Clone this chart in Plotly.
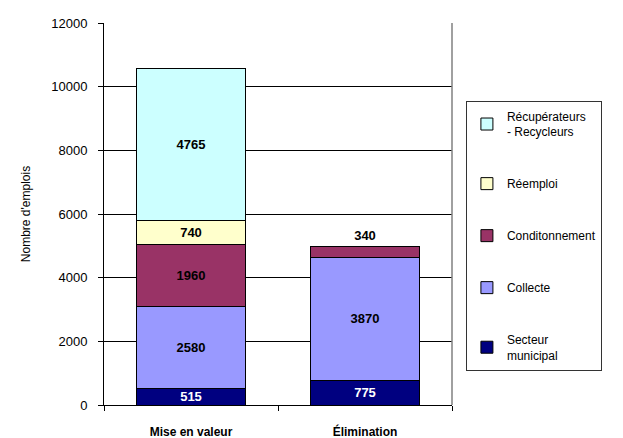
import plotly.graph_objects as go

categories = ["Mise en valeur", "Élimination"]
secteur_municipal = [515, 775]
collecte = [2580, 3870]
conditionnement = [1960, 340]
reemploi = [740, None]
recuperateurs = [4765, None]

series_names = ["Secteur<br>municipal", "Collecte", "Conditonnement", "Réemploi", "Récupérateurs<br>- Recycleurs"]
series_values = [secteur_municipal, collecte, conditionnement, reemploi, recuperateurs]
series_colors = ["#000080", "#9999FF", "#993366", "#FFFFCC", "#CCFFFF"]
text_colors = ["white", "black", "black", "black", "black"]

FONT = "Arial, Liberation Sans, sans-serif"

fig = go.Figure()
n = len(series_names)
for i, (name, vals, col, tcol) in enumerate(zip(series_names, series_values, series_colors, text_colors)):
    positions = []
    for v in vals:
        positions.append("outside" if (v is not None and name == "Conditonnement" and v < 500) else "inside")
    fig.add_trace(go.Bar(
        x=categories, y=vals, name=name, legendgroup=str(i), legendrank=n - i,
        marker=dict(color=col, line=dict(color="black", width=1)),
        text=[("" if v is None else str(v)) for v in vals],
        textposition=positions,
        insidetextanchor="middle",
        textangle=0,
        constraintext="none",
        textfont=dict(family=FONT, size=13, color=tcol, weight="bold"),
        outsidetextfont=dict(family=FONT, size=13, color="black", weight="bold"),
        cliponaxis=False,
    ))

# page body has an 8px default margin, so the figure is sized to fit the window
fig.update_layout(
    width=615, height=430,
    barmode="stack", bargap=0.374,
    paper_bgcolor="white", plot_bgcolor="white",
    margin=dict(l=96, r=171, t=15, b=33),
    font=dict(family=FONT, size=12, color="black"),
    showlegend=True,
    legend=dict(
        x=1.04, xanchor="left", y=0.796, yanchor="top",
        traceorder="grouped", tracegroupgap=33,
        bordercolor="#333333", borderwidth=1,
        font=dict(family=FONT, size=12, color="black"),
        itemclick=False,
    ),
    xaxis=dict(
        showline=True, linecolor="black", linewidth=1,
        ticks="outside", tickson="boundaries", ticklen=5, tickcolor="black",
        tickfont=dict(family=FONT, size=12, color="black", weight="bold"),
        ticklabelstandoff=16,
        showgrid=False, automargin=False,
    ),
    yaxis=dict(
        range=[0, 12000], dtick=2000, tickformat="d",
        showline=True, linecolor="black", linewidth=1,
        ticks="outside", ticklen=5, tickcolor="black",
        showgrid=True, gridcolor="black", gridwidth=1,
        zeroline=False, automargin=False,
        tickfont=dict(family=FONT, size=13, color="black"),
        ticklabelstandoff=8,
        title=dict(text="Nombre d'emplois", font=dict(family=FONT, size=12, color="black"), standoff=18),
    ),
    shapes=[dict(type="line", xref="paper", yref="paper", x0=1, x1=1, y0=0, y1=1,
                 line=dict(color="#808080", width=1.5))],
)

fig.write_html("out.html")
